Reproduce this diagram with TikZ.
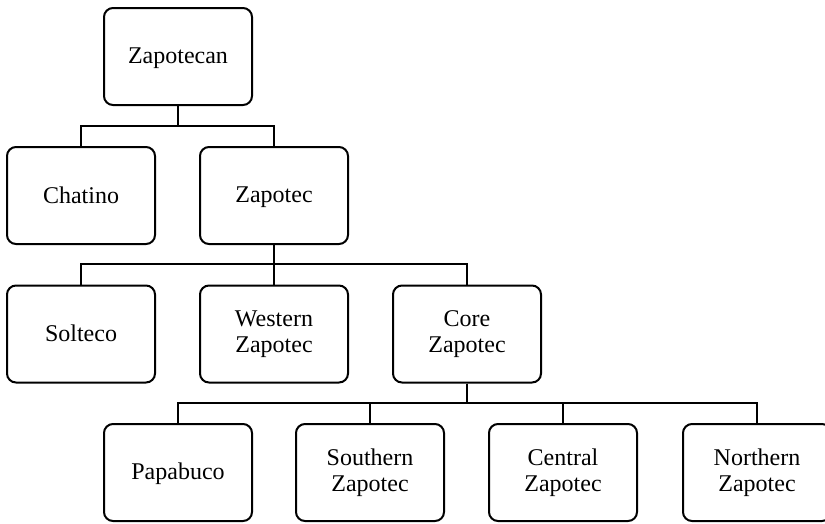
\documentclass[tikz,border=0pt]{standalone}
\usepackage{fontspec}
\setmainfont{Liberation Serif}
\newcommand\mystrut{\rule[-5pt]{0pt}{25pt}}
\begin{document}
\begin{tikzpicture}[x=1pt,y=-1pt,
  box/.style={draw=black,line width=2pt,rounded corners=9pt,minimum width=148pt,minimum height=97pt,
    align=center,font=\fontsize{24}{26}\selectfont,inner sep=0pt},
  link/.style={draw=black,line width=2pt}]
\useasboundingbox (0,0) rectangle (825,523);
\clip (0,0) rectangle (825,523);
\fill[white] (0,0) rectangle (825,523);
\node[box] (zn) at (178,56.5) {\mystrut Zapotecan};
\node[box] (ch) at (81,195.5) {\mystrut Chatino};
\node[box] (zt) at (274,195.5) {\mystrut Zapotec};
\node[box] (so) at (81,334) {\mystrut Solteco};
\node[box] (wz) at (274,334) {Western\\Zapotec};
\node[box] (cz) at (467,334) {Core\\Zapotec};
\node[box] (pa) at (178,472.5) {\mystrut Papabuco};
\node[box] (sz) at (370,472.5) {Southern\\Zapotec};
\node[box] (ce) at (563,472.5) {Central\\Zapotec};
\node[box] (nz) at (757,472.5) {Northern\\Zapotec};
\draw[link] (zn.south) -- ++(0,20) -| (ch.north);
\draw[link] (zn.south) -- ++(0,20) -| (zt.north);
\draw[link] (zt.south) -- ++(0,19) -| (so.north);
\draw[link] (zt.south) -- ++(0,19) -| (wz.north);
\draw[link] (zt.south) -- ++(0,19) -| (cz.north);
\draw[link] (cz.south) -- ++(0,19.5) -| (pa.north);
\draw[link] (cz.south) -- ++(0,19.5) -| (sz.north);
\draw[link] (cz.south) -- ++(0,19.5) -| (ce.north);
\draw[link] (cz.south) -- ++(0,19.5) -| (nz.north);
\end{tikzpicture}
\end{document}
